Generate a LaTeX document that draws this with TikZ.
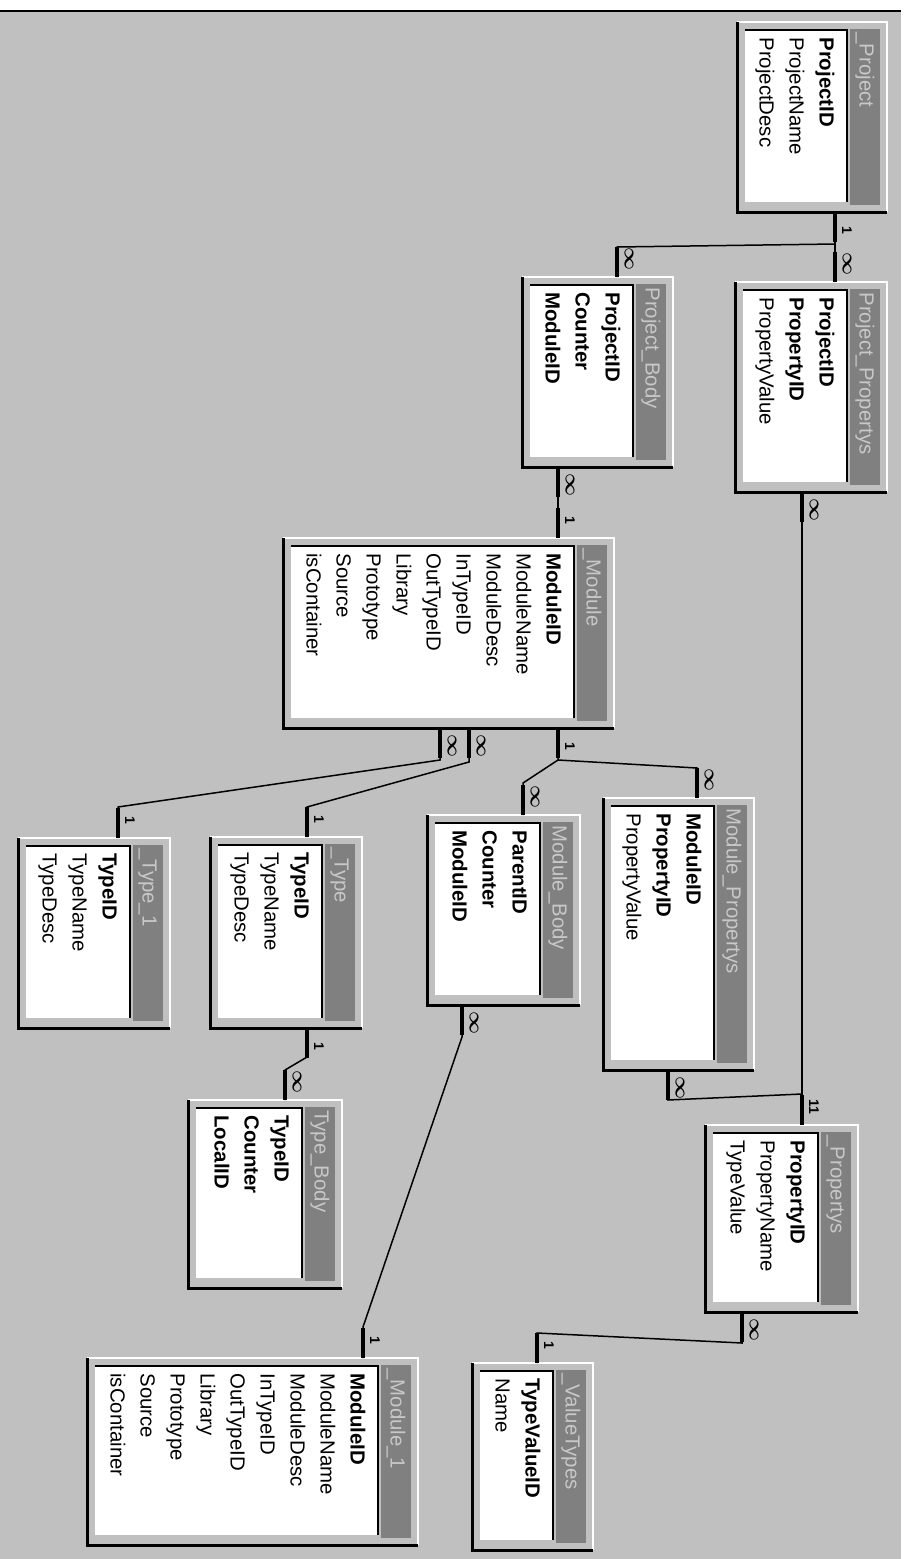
\documentclass[tikz,border=0pt]{standalone}
\usepackage{fontspec}
\setmainfont{Liberation Sans}
\definecolor{panel}{HTML}{C0C0C0}
\definecolor{titlebar}{HTML}{808080}
\definecolor{titletext}{HTML}{C8C8C8}
\newcommand{\pxunit}{0.5pt}
\newcommand{\fieldstep}{30}
\newcommand{\infsym}{{\fontsize{10}{10}\selectfont\boldmath$\infty$}}

\tikzset{
  tblframe/.style={rectangle, inner sep=0pt, outer sep=0pt, fill=panel},
  fld/.style={rotate=-90, anchor=west, inner sep=0pt, text height=7.5pt, text depth=2pt, font=\fontsize{10.2}{12}\selectfont},
  ttl/.style={fld, text=titletext},
  link/.style={line width=0.75pt},
  stub/.style={line width=2pt},
  card/.style={rotate=-90, inner sep=0pt, font=\fontsize{7}{7}\bfseries\selectfont},
}

% table: name, left, top, right, bottom, title, fields
\newcommand{\dbtable}[7]{%
  \node[tblframe, minimum width={(#4-#2)*\pxunit}, minimum height={(#5-#3)*\pxunit}] (#1) at ({(#2+#4)/2},{(#3+#5)/2}) {};
  \draw[white, line width=1pt] (#1.south east) -- (#1.north east) -- (#1.north west);
  \draw[black, line width=1.5pt] (#1.north west) -- (#1.south west) -- (#1.south east);
  \fill[titlebar] (#4-37,#3+7) rectangle (#4-7,#5-7);
  \fill[white] (#2+8,#3+8) rectangle (#4-40,#5-10);
  \draw[black, line width=1pt] (#2+8,#3+8) -- (#4-40,#3+8) -- (#4-40,#5-10);
  \node[ttl] at (#4-22,#3+10) {#6};
  \foreach \f [count=\i from 0] in {#7}
    \node[fld] at (#4-62-\fieldstep*\i,#3+15) {\f};
}

% thick end of a relation: table, x, label
\newcommand{\stubdown}[3]{\draw[stub] (#1.south -| #2,0) -- ++(0,30) node[card, pos=0.6, yshift=6pt] {#3};}
\newcommand{\stubup}[3]{\draw[stub] (#1.north -| #2,0) -- ++(0,-30) node[card, pos=0.6, yshift=6pt] {#3};}

\begin{document}
\begin{tikzpicture}[x=\pxunit, y=-\pxunit]

\useasboundingbox (0,0) rectangle (907,1559);
\fill[white] (0,0) rectangle (907,1559);
\fill[panel] (0,12) rectangle (901,1559);
\draw[black, line width=1pt] (0,11) -- (901,11);

% Tables
\dbtable{prj}{737}{22}{887}{212}{\_Project}{\textbf{ProjectID},ProjectName,ProjectDesc}
\dbtable{prp}{735}{282}{887}{492}{Project\_Propertys}{\textbf{ProjectID},\textbf{PropertyID},PropertyValue}
\dbtable{pbody}{522}{277}{673}{467}{Project\_Body}{\textbf{ProjectID},\textbf{Counter},\textbf{ModuleID}}
\dbtable{module}{283}{538}{614}{728}{\_Module}{\textbf{ModuleID},ModuleName,ModuleDesc,InTypeID,OutTypeID,Library,Prototype,Source,isContainer}
\dbtable{mprop}{603}{798}{754}{1070}{Module\_Propertys}{\textbf{ModuleID},\textbf{PropertyID},PropertyValue}
\dbtable{mbody}{427}{815}{580}{1005}{Module\_Body}{\textbf{ParentID},\textbf{Counter},\textbf{ModuleID}}
\dbtable{type1}{18}{838}{170}{1028}{\_Type\_1}{\textbf{TypeID},TypeName,TypeDesc}
\dbtable{type}{210}{837}{362}{1028}{\_Type}{\textbf{TypeID},TypeName,TypeDesc}
\dbtable{tbody}{188}{1100}{342}{1288}{Type\_Body}{\textbf{TypeID},\textbf{Counter},\textbf{LocalID}}
\dbtable{props}{705}{1125}{858}{1312}{\_Propertys}{\textbf{PropertyID},PropertyName,TypeValue}
\dbtable{vtypes}{472}{1363}{593}{1550}{\_ValueTypes}{\textbf{TypeValueID},Name}
\dbtable{mod1}{87}{1358}{418}{1545}{\_Module\_1}{\textbf{ModuleID},ModuleName,ModuleDesc,InTypeID,OutTypeID,Library,Prototype,Source,isContainer}

% Relations
\draw[link] (prj.south -| 835,0) -- (prp.north -| 835,0);
\draw[link] (835,244) -- (617,247) -- (pbody.north -| 617,0);
\draw[link] (prp.south -| 802,0) -- (props.north -| 802,0);
\draw[link] (mprop.south -| 668,0) -- (668,1100) -- (802,1094);
\draw[link] (pbody.south -| 558,0) -- (module.north -| 558,0);
\draw[link] (module.south -| 440,0) -- (440,760) -- (118,807) -- (type1.north -| 118,0);
\draw[link] (module.south -| 469,0) -- (469,762) -- (307,807) -- (type.north -| 307,0);
\draw[link] (module.south -| 558,0) -- (558,760) -- (523,783) -- (mbody.north -| 523,0);
\draw[link] (558,760) -- (697,768) -- (mprop.north -| 697,0);
\draw[link] (type.south -| 307,0) -- (307,1057) -- (285,1070) -- (tbody.north -| 285,0);
\draw[link] (mbody.south -| 462,0) -- (462,1037) -- (363,1327) -- (mod1.north -| 363,0);
\draw[link] (props.south -| 742,0) -- (742,1343) -- (537,1333) -- (vtypes.north -| 537,0);

% Relation ends
\stubdown{prj}{835}{1}
\stubup{prp}{835}{\infsym}
\stubup{pbody}{617}{\infsym}
\stubdown{prp}{802}{\infsym}
\stubup{props}{802}{11}
\stubdown{mprop}{668}{\infsym}
\stubdown{pbody}{558}{\infsym}
\stubup{module}{558}{1}
\stubdown{module}{440}{\infsym}
\stubdown{module}{469}{\infsym}
\stubdown{module}{558}{1}
\stubup{type1}{118}{1}
\stubup{type}{307}{1}
\stubup{mbody}{523}{\infsym}
\stubup{mprop}{697}{\infsym}
\stubdown{type}{307}{1}
\stubup{tbody}{285}{\infsym}
\stubdown{mbody}{462}{\infsym}
\stubup{mod1}{363}{1}
\stubdown{props}{742}{\infsym}
\stubup{vtypes}{537}{1}

\end{tikzpicture}
\end{document}
